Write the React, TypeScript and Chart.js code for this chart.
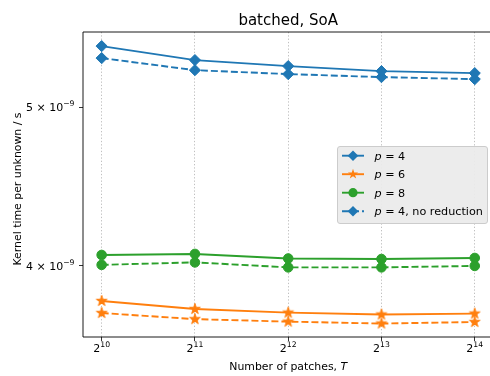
import { useEffect, useRef } from "react";
import { Chart, registerables } from "chart.js";
Chart.register(...registerables);

const patches = [1024, 2048, 4096, 8192, 16384];
const xTickExponents = ["10", "11", "12", "13", "14"];
const yTicks = [4e-9, 5e-9];
const yTickMantissas = ["4", "5"];
const yTickExponent = "\u22129";

const p4 = [5.447e-9, 5.341e-9, 5.296e-9, 5.259e-9, 5.244e-9];
const p6 = [3.808e-9, 3.765e-9, 3.746e-9, 3.736e-9, 3.741e-9];
const p8 = [4.062e-9, 4.068e-9, 4.042e-9, 4.039e-9, 4.045e-9];
const p4NoRed = [5.356e-9, 5.266e-9, 5.237e-9, 5.215e-9, 5.2e-9];
const p6NoRed = [3.744e-9, 3.712e-9, 3.699e-9, 3.689e-9, 3.697e-9];
const p8NoRed = [4.006e-9, 4.02e-9, 3.992e-9, 3.992e-9, 4.0e-9];

const BLUE = "#1f77b4";
const ORANGE = "#ff7f0e";
const GREEN = "#2ca02c";
const FONT = "'DejaVu Sans', sans-serif";

function starPath(ctx: CanvasRenderingContext2D, cx: number, cy: number, R: number) {
  const r = R * 0.381966;
  ctx.beginPath();
  for (let i = 0; i < 10; i++) {
    const rad = i % 2 === 0 ? R : r;
    const a = -Math.PI / 2 + (i * Math.PI) / 5;
    const x = cx + rad * Math.cos(a);
    const y = cy + rad * Math.sin(a);
    if (i === 0) ctx.moveTo(x, y);
    else ctx.lineTo(x, y);
  }
  ctx.closePath();
}

function makeStar(R: number, color: string) {
  const c = document.createElement("canvas");
  const s = Math.ceil(R * 2 + 4);
  c.width = s;
  c.height = s;
  const ctx = c.getContext("2d")!;
  starPath(ctx, s / 2, s / 2, R);
  ctx.fillStyle = color;
  ctx.fill();
  ctx.lineWidth = 1;
  ctx.strokeStyle = color;
  ctx.stroke();
  return c;
}

function drawMath(
  ctx: CanvasRenderingContext2D,
  base: string,
  sup: string,
  x: number,
  y: number,
  align: "center" | "right",
  size: number
) {
  const supSize = size * 0.7;
  ctx.font = `${size}px ${FONT}`;
  const wb = ctx.measureText(base).width;
  ctx.font = `${supSize}px ${FONT}`;
  const ws = ctx.measureText(sup).width;
  const total = wb + ws;
  const start = align === "center" ? x - total / 2 : x - total;
  ctx.textAlign = "left";
  ctx.textBaseline = "alphabetic";
  ctx.fillStyle = "#000";
  ctx.font = `${size}px ${FONT}`;
  ctx.fillText(base, start, y);
  ctx.font = `${supSize}px ${FONT}`;
  ctx.fillText(sup, start + wb, y - 4.5);
}

export default function App() {
  const ref = useRef<HTMLCanvasElement | null>(null);
  useEffect(() => {
    if (!ref.current) return;
    const starImg = makeStar(5.6, ORANGE);
    const lineW = 1.9;
    const dash = [7, 3];
    const mk = (
      label: string,
      data: number[],
      color: string,
      style: any,
      radius: number,
      dashed: boolean
    ) => ({
      label,
      data: patches.map((x, i) => ({ x, y: data[i] })),
      borderColor: color,
      backgroundColor: color,
      borderWidth: lineW,
      borderDash: dashed ? dash : [],
      pointStyle: style,
      pointRadius: radius,
      pointBorderWidth: 1,
      pointBorderColor: color,
      pointBackgroundColor: color,
      tension: 0,
      fill: false,
    });

    const overlay = {
      id: "overlay",
      afterDraw(chart: any) {
        const ctx: CanvasRenderingContext2D = chart.ctx;
        const a = chart.chartArea;
        const xs = chart.scales.x;
        const ys = chart.scales.y;
        ctx.save();
        // frame (right side lies beyond the visible area)
        ctx.strokeStyle = "#000";
        ctx.lineWidth = 0.9;
        ctx.setLineDash([]);
        ctx.beginPath();
        ctx.moveTo(chart.width + 5, a.top);
        ctx.lineTo(a.left, a.top);
        ctx.lineTo(a.left, a.bottom);
        ctx.lineTo(chart.width + 5, a.bottom);
        ctx.stroke();
        // x tick labels
        patches.forEach((v, i) => {
          drawMath(ctx, "2", xTickExponents[i], xs.getPixelForValue(v), a.bottom + 14.5, "center", 11);
        });
        // y tick labels
        yTicks.forEach((v, i) => {
          drawMath(ctx, yTickMantissas[i] + " \u00d7 10", yTickExponent, a.left - 8.5, ys.getPixelForValue(v) + 3.7, "right", 11);
        });
        // title
        ctx.fillStyle = "#000";
        ctx.textAlign = "center";
        ctx.textBaseline = "alphabetic";
        ctx.font = `15px ${FONT}`;
        ctx.fillText("batched, SoA", (a.left + a.right) / 2, 25);
        // x label
        const t1 = "Number of patches, ";
        ctx.font = `10.9px ${FONT}`;
        const w1 = ctx.measureText(t1).width;
        ctx.font = `italic 10.9px ${FONT}`;
        const w2 = ctx.measureText("T").width;
        const sx = (a.left + a.right) / 2 - (w1 + w2) / 2;
        ctx.textAlign = "left";
        ctx.font = `10.9px ${FONT}`;
        ctx.fillText(t1, sx, 370);
        ctx.font = `italic 10.9px ${FONT}`;
        ctx.fillText("T", sx + w1, 370);
        // y label
        ctx.save();
        ctx.translate(20.5, 189);
        ctx.rotate(-Math.PI / 2);
        ctx.textAlign = "center";
        ctx.font = `10.9px ${FONT}`;
        ctx.fillText("Kernel time per unknown / s", 0, 0);
        ctx.restore();

        // legend
        const lx = 337.5, ly = 146.5, lw = 150, lh = 77;
        ctx.fillStyle = "rgba(235,235,235,0.95)";
        ctx.strokeStyle = "#cccccc";
        ctx.lineWidth = 1;
        ctx.beginPath();
        const rr = 2.5;
        ctx.moveTo(lx + rr, ly);
        ctx.arcTo(lx + lw, ly, lx + lw, ly + lh, rr);
        ctx.arcTo(lx + lw, ly + lh, lx, ly + lh, rr);
        ctx.arcTo(lx, ly + lh, lx, ly, rr);
        ctx.arcTo(lx, ly, lx + lw, ly, rr);
        ctx.closePath();
        ctx.fill();
        ctx.stroke();
        const entries = [
          { color: BLUE, marker: "diamond", dashed: false, tail: "4", extra: "" },
          { color: ORANGE, marker: "star", dashed: false, tail: "6", extra: "" },
          { color: GREEN, marker: "circle", dashed: false, tail: "8", extra: "" },
          { color: BLUE, marker: "diamond", dashed: true, tail: "4", extra: ", no reduction" },
        ];
        const rowY = [155.7, 174.2, 192.7, 211.2];
        entries.forEach((e, i) => {
          const y = rowY[i];
          ctx.strokeStyle = e.color;
          ctx.fillStyle = e.color;
          ctx.lineWidth = lineW;
          ctx.setLineDash(e.dashed ? dash : []);
          ctx.beginPath();
          ctx.moveTo(342, y);
          ctx.lineTo(364, y);
          ctx.stroke();
          ctx.setLineDash([]);
          const cx = 353;
          ctx.beginPath();
          if (e.marker === "diamond") {
            const r = 5.3;
            ctx.moveTo(cx, y - r);
            ctx.lineTo(cx + r, y);
            ctx.lineTo(cx, y + r);
            ctx.lineTo(cx - r, y);
            ctx.closePath();
          } else if (e.marker === "circle") {
            ctx.arc(cx, y, 4.6, 0, Math.PI * 2);
          } else {
            starPath(ctx, cx, y, 5.4);
          }
          ctx.fill();
          // text
          ctx.fillStyle = "#000";
          ctx.textAlign = "left";
          ctx.textBaseline = "alphabetic";
          let tx = 374.5;
          const by = y + 4;
          ctx.font = `italic 11.2px ${FONT}`;
          ctx.fillText("p", tx, by);
          tx += ctx.measureText("p").width;
          ctx.font = `11.2px ${FONT}`;
          const rest = " = " + e.tail + e.extra;
          ctx.fillText(rest, tx, by);
        });
        ctx.restore();
      },
    };

    const chart = new Chart(ref.current, {
      type: "line",
      data: {
        datasets: [
          mk("p4", p4, BLUE, "rectRot", 5.6, false),
          mk("p6", p6, ORANGE, starImg, 5.6, false),
          mk("p8", p8, GREEN, "circle", 4.8, false),
          mk("p4nr", p4NoRed, BLUE, "rectRot", 5.6, true),
          mk("p6nr", p6NoRed, ORANGE, starImg, 5.6, true),
          mk("p8nr", p8NoRed, GREEN, "circle", 4.8, true),
        ] as any,
      },
      options: {
        animation: false,
        responsive: false,
        maintainAspectRatio: false,
        layout: { padding: { left: 0, top: 32, right: 6, bottom: 0 } },
        plugins: {
          legend: { display: false },
          title: { display: false },
          tooltip: { enabled: false },
        },
        scales: {
          x: {
            type: "logarithmic",
            min: Math.pow(2, 9.8),
            max: Math.pow(2, 14.2),
            afterBuildTicks: (s: any) => {
              s.ticks = patches.map((v) => ({ value: v }));
            },
            afterFit: (s: any) => {
              s.height = 39;
            },
            ticks: { display: false },
            grid: {
              color: "#b0b0b0",
              lineWidth: 0.8,
              drawTicks: true,
              tickLength: 4,
              tickColor: "#000",
              tickWidth: 0.8,
              tickBorderDash: [],
            },
            border: { display: false, dash: [1.3, 2] },
          },
          y: {
            type: "logarithmic",
            min: 3.62e-9,
            max: 5.556e-9,
            afterBuildTicks: (s: any) => {
              s.ticks = yTicks.map((v) => ({ value: v }));
            },
            afterFit: (s: any) => {
              s.width = 83;
            },
            ticks: { display: false },
            grid: {
              drawOnChartArea: false,
              drawTicks: true,
              tickLength: 4,
              tickColor: "#000",
              tickWidth: 0.8,
            },
            border: { display: false },
          },
        } as any,
      },
      plugins: [overlay],
    } as any);
    return () => chart.destroy();
  }, []);

  return (
    <div
      style={{
        position: "absolute",
        left: 0,
        top: 0,
        width: 490,
        height: 376,
        overflow: "hidden",
        background: "#fff",
      }}
    >
      <canvas ref={ref} width={500} height={376} style={{ width: 500, height: 376, display: "block" }} />
    </div>
  );
}
